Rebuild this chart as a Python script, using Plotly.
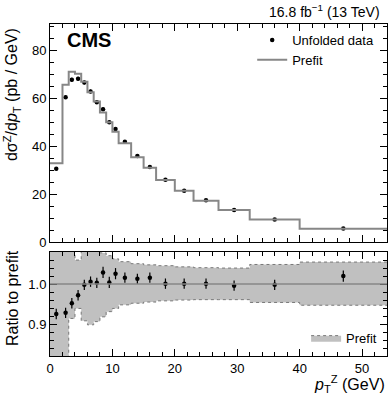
import plotly.graph_objects as go

# bin edges / centres in pT (GeV)
edges = [0, 2, 3, 4, 5, 6, 7, 8, 9, 10, 11, 13, 15, 17, 20, 23, 27, 32, 40, 54]
centers = [1, 2.5, 3.5, 4.5, 5.5, 6.5, 7.5, 8.5, 9.5, 10.5, 12, 14, 16, 18.5, 21.5, 25, 29.5, 36, 47]

# top panel
prefit = [33.0, 65.8, 71.2, 70.4, 67.1, 62.7, 58.8, 54.2, 50.1, 46.2,
          41.3, 35.5, 31.1, 26.0, 21.5, 17.3, 13.4, 9.5, 5.6]
data = [30.7, 60.6, 67.9, 68.3, 66.7, 63.0, 58.5, 55.6, 50.1, 47.3,
        42.0, 36.0, 31.4, 26.1, 21.5, 17.5, 13.4, 9.5, 5.7]
data_err = [0.6, 0.8, 0.8, 0.8, 0.8, 0.8, 0.8, 0.8, 0.7, 0.7,
            0.6, 0.5, 0.5, 0.4, 0.3, 0.3, 0.2, 0.2, 0.1]

# ratio panel
ratio = [0.925, 0.928, 0.952, 0.972, 0.998, 1.006, 1.003, 1.029, 1.004, 1.026,
         1.016, 1.013, 1.016, 1.001, 1.001, 1.001, 0.996, 0.998, 1.020]
ratio_err = [0.013, 0.013, 0.013, 0.013, 0.013, 0.013, 0.013, 0.014, 0.014, 0.014,
             0.013, 0.013, 0.013, 0.013, 0.013, 0.013, 0.013, 0.013, 0.014]
band_up = [1.10, 1.10, 1.10, 1.060, 1.10, 1.10, 1.10, 1.078, 1.071, 1.063,
           1.056, 1.051, 1.048, 1.046, 1.043, 1.041, 1.040, 1.049, 1.055]
band_dn = [0.80, 0.80, 0.914, 0.939, 0.908, 0.898, 0.906, 0.918, 0.931, 0.939,
           0.948, 0.952, 0.955, 0.958, 0.960, 0.961, 0.961, 0.954, 0.947]

FONT = "Liberation Sans"
GRAY = "rgb(135,135,135)"

fig = go.Figure()

fig.add_trace(go.Scatter(
    x=centers, y=data, mode="markers", name="Unfolded data",
    marker=dict(color="black", size=4.5),
    error_y=dict(array=data_err, color="black", thickness=1.2, width=0),
    xaxis="x2", yaxis="y", legend="legend"))
fig.add_trace(go.Scatter(
    x=edges, y=prefit + [prefit[-1]], mode="lines", line_shape="hv",
    name="Prefit", line=dict(color=GRAY, width=2),
    xaxis="x2", yaxis="y", legend="legend"))

# ratio band
fig.add_trace(go.Scatter(
    x=edges, y=band_up + [band_up[-1]], mode="lines", line_shape="hv",
    line=dict(color="rgb(120,120,120)", width=1, dash="dot"),
    showlegend=False, xaxis="x", yaxis="y2"))
fig.add_trace(go.Scatter(
    x=edges, y=band_dn + [band_dn[-1]], mode="lines", line_shape="hv",
    line=dict(color="rgb(120,120,120)", width=1, dash="dot"),
    fill="tonexty", fillcolor="rgb(192,192,192)", name="Prefit",
    xaxis="x", yaxis="y2", legend="legend2"))
fig.add_hline(y=1, line=dict(color=GRAY, width=1.5), xref="x", yref="y2")
fig.add_trace(go.Scatter(
    x=centers, y=ratio, mode="markers", showlegend=False,
    marker=dict(color="black", size=4.5),
    error_y=dict(array=ratio_err, color="black", thickness=1.2, width=0),
    xaxis="x", yaxis="y2"))

axis = dict(showline=True, linecolor="black", linewidth=1, mirror="allticks",
            ticks="inside", ticklen=7, tickcolor="black", tickwidth=1,
            showgrid=False, zeroline=False,
            tickfont=dict(size=13, color="black", family=FONT))

fig.update_layout(
    width=391, height=398,
    margin=dict(l=50, r=4, t=24, b=42),
    plot_bgcolor="white", paper_bgcolor="white",
    font=dict(family=FONT, color="black", size=13),
    xaxis=dict(axis, range=[0, 54], dtick=10, anchor="y2",
               minor=dict(ticks="inside", ticklen=4, dtick=2, tickcolor="black")),
    xaxis2=dict(axis, range=[0, 54], dtick=10, anchor="y", matches="x",
                showticklabels=False,
                minor=dict(ticks="inside", ticklen=4, dtick=2, tickcolor="black")),
    yaxis=dict(axis, range=[0, 91.2], dtick=20, domain=[0.343, 1], anchor="x2",
               minor=dict(ticks="inside", ticklen=4, dtick=5, tickcolor="black")),
    yaxis2=dict(axis, range=[0.82, 1.08], dtick=0.1, tickformat=".1f",
                domain=[0, 0.313], anchor="x",
                minor=dict(ticks="inside", ticklen=4, dtick=0.02, tickcolor="black")),
    legend=dict(x=0.6, y=0.997, xanchor="left", yanchor="top",
                bgcolor="rgba(0,0,0,0)", font=dict(size=13), tracegroupgap=0),
    legend2=dict(x=0.76, y=0.01, xanchor="left", yanchor="bottom",
                 bgcolor="rgba(0,0,0,0)", font=dict(size=13)),
    annotations=[
        dict(text="<b>CMS</b>", x=0.045, y=0.952, xref="paper", yref="paper",
             xanchor="left", yanchor="middle", showarrow=False,
             font=dict(size=20, family=FONT)),
        dict(text="16.8 fb<sup>\u22121</sup> (13 TeV)", x=0.985, y=1.005,
             xref="paper", yref="paper", xanchor="right", yanchor="bottom",
             showarrow=False, font=dict(size=14, family=FONT)),
        dict(text="d\u03c3<sup>Z</sup>/d<i>p</i><sub>T</sub> (pb / GeV)",
             x=-0.113, y=0.995, xref="paper", yref="paper", textangle=-90,
             xanchor="center", yanchor="top", showarrow=False,
             font=dict(size=16, family=FONT)),
        dict(text="Ratio to prefit", x=-0.113, y=0.325, xref="paper", yref="paper",
             textangle=-90, xanchor="center", yanchor="top", showarrow=False,
             font=dict(size=16, family=FONT)),
        dict(text="<i>p</i><sub>T</sub><sup>Z</sup> (GeV)", x=1.0, y=-0.045,
             xref="paper", yref="paper", xanchor="right", yanchor="top",
             showarrow=False, font=dict(size=16, family=FONT)),
    ],
)

# drop the default 8px page margin so the figure fills the window
fig.write_html("out.html", config={"displayModeBar": False},
               post_script="document.body.style.margin='0';")
